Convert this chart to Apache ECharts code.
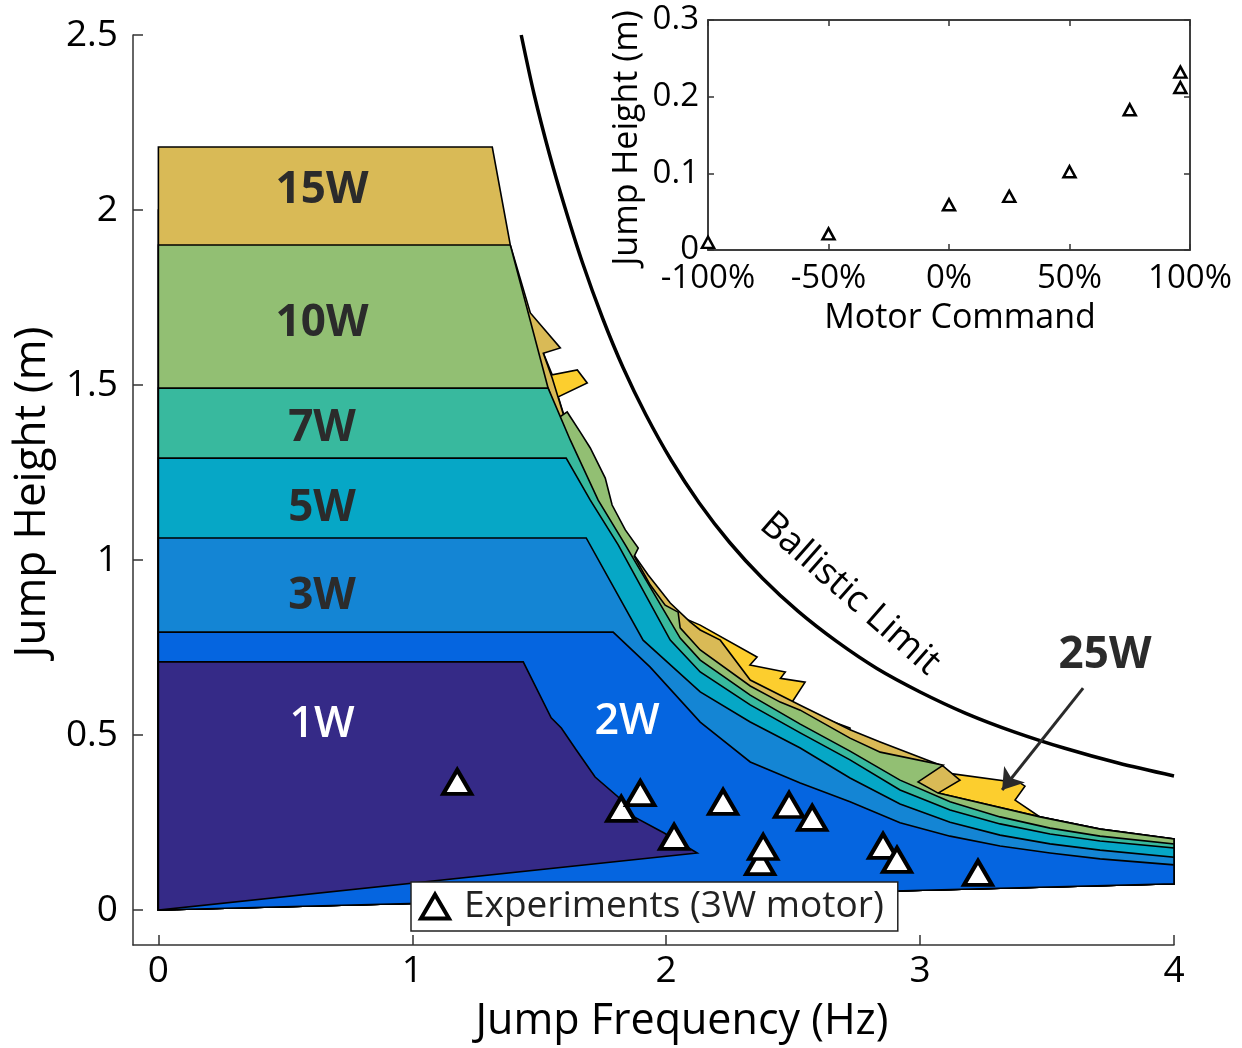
<!DOCTYPE html>
<html lang="en">
<head>
<meta charset="UTF-8">
<title>Jump Height vs Jump Frequency</title>
<script src="https://cdn.jsdelivr.net/npm/echarts@6/dist/echarts.min.js"></script>
<style>
  html, body { margin: 0; padding: 0; background: #fff; }
  #chart { width: 1242px; height: 1048px; }
</style>
</head>
<body>
<div id="chart"></div>
<script>
// ticks
const freqTicks = [0, 1, 2, 3, 4];
const heightTicks = [0, 0.5, 1, 1.5, 2, 2.5];

// every region is closed from the origin, and (except 1W) back along the bottom
const origin = [0, 0];
const bottomEnd = [4.0, 0.075];

// power regions: plateau height + frontier [frequency, height]
const top25W = 2.0;
const edge25W = [[1.34, 2.0], [1.43, 1.75], [1.50, 1.62], [1.551, 1.529], [1.650, 1.543], [1.689, 1.506],
  [1.575, 1.466], [1.62, 1.36], [1.74, 1.171], [1.898, 0.971], [2.016, 0.851], [2.134, 0.814],
  [2.358, 0.723], [2.33, 0.700], [2.469, 0.680], [2.45, 0.662], [2.547, 0.651], [2.496, 0.594],
  [2.575, 0.554], [2.638, 0.543], [2.724, 0.520], [2.724, 0.494], [2.843, 0.463], [3.079, 0.394],
  [3.394, 0.363], [3.413, 0.354], [3.374, 0.314], [3.472, 0.266], [3.709, 0.231], [4.0, 0.203]];

const top15W = 2.18;
const edge15W = [[1.315, 2.18], [1.386, 1.9], [1.465, 1.706], [1.583, 1.606], [1.516, 1.591], [1.551, 1.52],
  [1.614, 1.371], [1.681, 1.323], [1.693, 1.291], [1.728, 1.229], [1.748, 1.171], [1.819, 1.071],
  [1.929, 0.957], [2.016, 0.877], [2.094, 0.823], [2.134, 0.8], [2.213, 0.771], [2.331, 0.657],
  [2.528, 0.585], [2.724, 0.515], [2.843, 0.48], [3.091, 0.411], [3.157, 0.371], [3.071, 0.334],
  [3.472, 0.266], [3.709, 0.231], [4.0, 0.203]];

const top10W = 1.9;
const edge10W = [[1.386, 1.9], [1.535, 1.491], [1.575, 1.406], [1.610, 1.423], [1.661, 1.366], [1.701, 1.32],
  [1.760, 1.234], [1.787, 1.157], [1.839, 1.086], [1.890, 1.034], [1.874, 1.011], [1.937, 0.929],
  [1.996, 0.871], [2.047, 0.851], [2.055, 0.806], [2.134, 0.743], [2.331, 0.640], [2.449, 0.594],
  [2.528, 0.571], [2.724, 0.491], [2.843, 0.451], [3.091, 0.414], [2.992, 0.366], [3.071, 0.334],
  [3.472, 0.266], [3.709, 0.231], [4.0, 0.203]];

const top7W = 1.491;
const edge7W = [[1.535, 1.491], [1.622, 1.343], [1.732, 1.171], [1.839, 1.043], [2.055, 0.777], [2.134, 0.714],
  [2.331, 0.614], [2.528, 0.531], [2.724, 0.454], [2.921, 0.371], [3.118, 0.309], [3.315, 0.266],
  [3.512, 0.234], [3.709, 0.211], [4.0, 0.189]];

const top5W = 1.291;
const edge5W = [[1.606, 1.291], [1.701, 1.171], [1.811, 1.043], [2.016, 0.771], [2.134, 0.680], [2.331, 0.586],
  [2.528, 0.506], [2.724, 0.429], [2.921, 0.343], [3.118, 0.286], [3.315, 0.246], [3.512, 0.217],
  [3.709, 0.197], [4.0, 0.177]];

const top3W = 1.063;
const edge3W = [[1.685, 1.063], [1.909, 0.771], [2.134, 0.623], [2.331, 0.537], [2.528, 0.463], [2.724, 0.377],
  [2.921, 0.303], [3.118, 0.251], [3.315, 0.214], [3.512, 0.189], [3.709, 0.171], [4.0, 0.151]];

const top2W = 0.794;
const edge2W = [[1.791, 0.794], [1.937, 0.694], [2.134, 0.537], [2.331, 0.423], [2.528, 0.363], [2.724, 0.309],
  [2.921, 0.249], [3.118, 0.211], [3.315, 0.183], [3.512, 0.163], [3.709, 0.146], [4.0, 0.129]];

const top1W = 0.709;
const edge1W = [[1.437, 0.709], [1.547, 0.549], [1.587, 0.520], [1.646, 0.457], [1.720, 0.380], [1.811, 0.323],
  [1.874, 0.266], [1.992, 0.220], [2.122, 0.163]];

// ballistic limit curve
const ballistic = [[1.429, 2.5], [1.48, 2.33], [1.54, 2.16], [1.60, 2.01], [1.67, 1.85], [1.75, 1.69],
  [1.83, 1.55], [1.92, 1.415], [2.02, 1.285], [2.13, 1.163], [2.25, 1.05], [2.38, 0.947],
  [2.52, 0.853], [2.67, 0.768], [2.83, 0.69], [3.0, 0.623], [3.18, 0.562], [3.37, 0.509],
  [3.57, 0.462], [3.78, 0.42], [4.0, 0.383]];

// experiments (3W motor)
const expFreq = [1.177, 1.823, 1.898, 2.031, 2.224, 2.370, 2.382, 2.484, 2.575, 2.854, 2.909, 3.228];
const expHeight = [0.366, 0.289, 0.334, 0.209, 0.309, 0.137, 0.180, 0.300, 0.263, 0.183, 0.143, 0.106];

// 25W arrow
const arrowFrom = [3.642, 0.634];
const arrowTo = [3.323, 0.343];

// inset: motor command vs jump height
const motorCmd = [-100, -50, 0, 25, 50, 75, 96, 96];
const motorHeight = [0.010, 0.021, 0.059, 0.070, 0.102, 0.183, 0.212, 0.232];

const FONT = "'Open Sans', sans-serif";

function region(name, color, top, edge, closeBottom) {
  const pts = [origin, [0, top]].concat(edge);
  if (closeBottom) pts.push(bottomEnd);
  return {
    type: 'custom',
    name: name,
    xAxisIndex: 0,
    yAxisIndex: 0,
    silent: true,
    z: 2,
    data: pts,
    renderItem: function (params, api) {
      if (params.dataIndex !== 0) return null;
      return {
        type: 'polygon',
        shape: { points: pts.map(p => api.coord(p)) },
        style: { fill: color, stroke: '#000', lineWidth: 1.6 }
      };
    }
  };
}

function label(text, x, y, font, color, rotation) {
  return {
    type: 'text', x: x, y: y, rotation: rotation || 0, z: 100,
    style: { text: text, font: font, fill: color, align: 'center', verticalAlign: 'middle' }
  };
}

const chart = echarts.init(document.getElementById('chart'));

const axisLineStyle = { color: '#333', width: 1.5 };

const option = {
  animation: false,
  backgroundColor: '#fff',
  grid: [
    { left: 133, right: 68, top: 35, bottom: 103 },
    { left: 708, top: 20, width: 482, height: 230, show: true, backgroundColor: '#fff', borderColor: '#333', borderWidth: 1.5, z: 5 }
  ],
  xAxis: [
    {
      gridIndex: 0, type: 'value', min: -0.1, max: 4,
      axisLine: { show: true, onZero: false, lineStyle: axisLineStyle },
      axisTick: { show: true, inside: true, length: 10, customValues: freqTicks, lineStyle: axisLineStyle },
      axisLabel: { customValues: freqTicks, fontSize: 37, color: '#000', margin: 8, fontFamily: FONT },
      splitLine: { show: false }
    },
    {
      gridIndex: 1, type: 'value', min: -100, max: 100, interval: 50, z: 6,
      axisLine: { show: true, onZero: false, lineStyle: axisLineStyle },
      axisTick: { show: true, inside: true, length: 6, lineStyle: axisLineStyle },
      axisLabel: { formatter: '{value}%', fontSize: 33, color: '#000', margin: 12, fontFamily: FONT },
      splitLine: { show: false }
    },
    {
      gridIndex: 1, type: 'value', position: 'top', min: -100, max: 100, interval: 50, z: 6,
      axisLine: { show: true, onZero: false, lineStyle: axisLineStyle },
      axisTick: { show: true, inside: true, length: 6, lineStyle: axisLineStyle },
      axisLabel: { show: false },
      splitLine: { show: false }
    }
  ],
  yAxis: [
    {
      gridIndex: 0, type: 'value', min: -0.1, max: 2.5,
      axisLine: { show: true, onZero: false, lineStyle: axisLineStyle },
      axisTick: { show: true, inside: true, length: 10, customValues: heightTicks, lineStyle: axisLineStyle },
      axisLabel: { customValues: heightTicks, fontSize: 37, color: '#000', margin: 15, fontFamily: FONT, padding: [8, 0, 0, 0] },
      splitLine: { show: false }
    },
    {
      gridIndex: 1, type: 'value', min: 0, max: 0.3, interval: 0.1, z: 6,
      axisLine: { show: true, onZero: false, lineStyle: axisLineStyle },
      axisTick: { show: true, inside: true, length: 6, lineStyle: axisLineStyle },
      axisLabel: { fontSize: 33, color: '#000', margin: 9, fontFamily: FONT, padding: [4, 0, 0, 0] },
      splitLine: { show: false }
    },
    {
      gridIndex: 1, type: 'value', position: 'right', min: 0, max: 0.3, interval: 0.1, z: 6,
      axisLine: { show: true, onZero: false, lineStyle: axisLineStyle },
      axisTick: { show: true, inside: true, length: 6, lineStyle: axisLineStyle },
      axisLabel: { show: false },
      splitLine: { show: false }
    }
  ],
  legend: {
    data: ['Experiments (3W motor)'],
    left: 411, top: 882,
    icon: 'triangle',
    itemWidth: 28, itemHeight: 24, itemGap: 8,
    backgroundColor: '#fff', borderColor: '#222', borderWidth: 1.5,
    padding: [6, 14, 6, 8],
    itemStyle: { color: '#fff', borderColor: '#000', borderWidth: 4 },
    textStyle: { fontSize: 37, color: '#222', fontFamily: FONT, padding: [0, 0, 0, 10] },
    z: 10
  },
  series: [
    region('25W', '#FCCE2E', top25W, edge25W, true),
    region('15W', '#D9BA56', top15W, edge15W, true),
    region('10W', '#92BF73', top10W, edge10W, true),
    region('7W', '#38B99E', top7W, edge7W, true),
    region('5W', '#06A7C6', top5W, edge5W, true),
    region('3W', '#1485D4', top3W, edge3W, true),
    region('2W', '#0565E0', top2W, edge2W, true),
    region('1W', '#352A87', top1W, edge1W, false),
    {
      type: 'line', name: 'Ballistic Limit', xAxisIndex: 0, yAxisIndex: 0,
      data: ballistic, smooth: 0.3, symbol: 'none', silent: true, z: 3,
      lineStyle: { color: '#000', width: 3.5 },
      markLine: {
        silent: true, symbol: ['none', 'arrow'], symbolSize: 20,
        label: { show: false },
        lineStyle: { color: '#2a2a2a', width: 3, type: 'solid' },
        data: [[{ coord: arrowFrom }, { coord: arrowTo }]]
      }
    },
    {
      type: 'scatter', name: 'Experiments (3W motor)', xAxisIndex: 0, yAxisIndex: 0,
      data: expFreq.map((f, i) => [f, expHeight[i]]),
      symbol: 'triangle', symbolSize: [28, 24], z: 4,
      itemStyle: { color: '#fff', borderColor: '#000', borderWidth: 4, opacity: 1 }
    },
    {
      type: 'scatter', name: 'Motor sweep', xAxisIndex: 1, yAxisIndex: 1,
      data: motorCmd.map((m, i) => [m, motorHeight[i]]),
      symbol: 'triangle', symbolSize: [12, 11], z: 7,
      itemStyle: { color: '#fff', borderColor: '#000', borderWidth: 2.5, opacity: 1 }
    }
  ],
  graphic: [
    label('Jump Frequency (Hz)', 682, 1022, '43px ' + FONT, '#000'),
    label('Jump Height (m)', 32, 492, '44px ' + FONT, '#000', Math.PI / 2),
    label('Jump Height (m)', 627, 138, '34px ' + FONT, '#000', Math.PI / 2),
    label('Motor Command', 960, 318, '34px ' + FONT, '#000'),
    label('15W', 322, 190, 'bold 44px ' + FONT, '#2b2b2b'),
    label('10W', 322, 323, 'bold 44px ' + FONT, '#2b2b2b'),
    label('7W', 322, 428, 'bold 44px ' + FONT, '#2b2b2b'),
    label('5W', 322, 508, 'bold 44px ' + FONT, '#2b2b2b'),
    label('3W', 322, 596, 'bold 44px ' + FONT, '#2b2b2b'),
    label('1W', 322, 725, '600 43px ' + FONT, '#fff'),
    label('2W', 627, 722, '600 43px ' + FONT, '#fff'),
    label('25W', 1105, 655, 'bold 44px ' + FONT, '#2b2b2b'),
    label('Ballistic Limit', 850, 594, '37px ' + FONT, '#000', -0.72)
  ]
};

chart.setOption(option);
</script>
</body>
</html>
